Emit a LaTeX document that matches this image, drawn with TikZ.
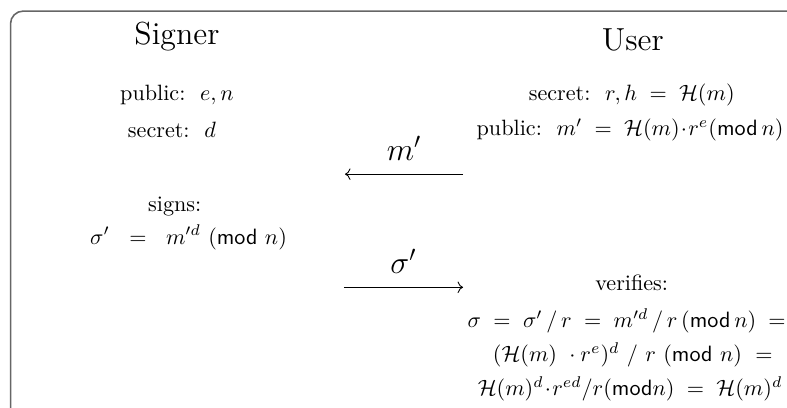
\documentclass[tikz,border=0pt]{standalone}
\usepackage{amsmath, amssymb}
\usepackage{tikz}
\usetikzlibrary{arrows.meta, calc, positioning}

\begin{document}
\begin{tikzpicture}[scale=0.88,
    party/.style={font=\Large, inner sep=0pt},
    info/.style={inner sep=0pt},
    msg/.style={font=\Large, inner sep=0pt},
    frame/.style={draw=black!60, line width=0.7pt, rounded corners=0.2cm}
]
    \useasboundingbox (0, 0) rectangle (14.19, 7.34);
    \clip (0, 0) rectangle (14.19, 7.34);

    % 边框
    \draw[frame] (0.19, -0.5) -- (0.19, 7.14) -- (14.8, 7.14);

    % 签名者
    \node[party] (signer) at (3.19, 6.69) {Signer};
    \node[info] (spub) at (3.19, 5.62) {public:\ \ $e, n$};
    \node[info] (ssec) at (3.10, 4.99) {secret:\ \ $d$};
    \node[info] (signs) at (3.15, 3.62) {signs:};
    \node[info] (sig) at (3.40, 3.06) {$\sigma' \hspace{6pt}=\hspace{6pt} m'^{d}\ (\mathsf{mod}\ n)$};

    % 用户
    \node[party] (user) at (11.41, 6.62) {User};
    \node[info] (usec) at (11.39, 5.62) {secret:\ \ $r, h \;=\; \mathcal{H}(m)$};
    \node[info] (upub) at (11.36, 4.99) {public:\ \ $m' \;=\; \mathcal{H}(m) \!\cdot\! r^{e} (\mathsf{mod}\, n)$};
    \node[info] (verif) at (11.39, 2.24) {verifies:};
    \node[info] (v1) at (11.30, 1.55) {$\sigma \;=\; \sigma' \,/\, r \;=\; m'^{d} \,/\, r \, (\mathsf{mod}\, n) \;=$};
    \node[info] (v2) at (11.41, 0.94) {$(\mathcal{H}(m)\ \cdot r^{e})^{d}\ /\ r\ (\mathsf{mod}\ n)\ =$};
    \node[info] (v3) at (11.36, 0.32) {$\mathcal{H}(m)^{d} \!\cdot\! r^{ed} / r (\mathsf{mod} n) \;=\; \mathcal{H}(m)^{d}$};

    % 消息
    \coordinate (mR) at (8.35, 4.20);
    \coordinate (mL) at (6.22, 4.20);
    \coordinate (sL) at (6.20, 2.16);
    \coordinate (sR) at (8.35, 2.16);

    \draw[->] (mR) -- (mL) node[msg, midway, above=6pt] (mlbl) {$m'$};
    \draw[->] (sL) -- (sR) node[msg, midway, above=6pt] (slbl) {$\sigma'$};
\end{tikzpicture}
\end{document}
